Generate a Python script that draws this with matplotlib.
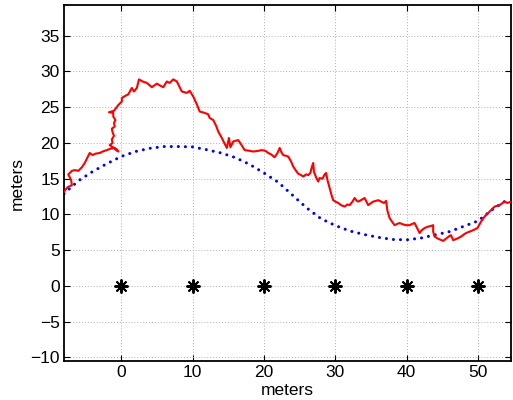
import matplotlib
matplotlib.use("Agg")
import matplotlib.pyplot as plt
import matplotlib.ticker as mticker

# measured track (noisy) in meters
track_x = [-8.0, -7.5, -6.9, -7.0, -7.4, -6.9, -6.5, -6.0, -5.5, -5.1, -4.8, -4.4,
           -4.0, -3.6, -3.0, -2.6, -2.0, -1.5, -0.9, -0.4, -1.0, -1.6, -1.2, -1.3,
           -1.0, -1.2, -1.3, -0.9, -1.0, -0.8, -1.1, -1.1, -1.7, -1.0, -0.7, -0.4,
           0.1, 0.1, 0.6, 1.0, 1.5, 1.8, 2.2, 2.5, 3.0, 3.6, 4.3, 5.0, 5.5, 5.9,
           6.4, 6.8, 7.3, 7.8, 8.5, 9.2, 9.6, 10.1, 10.6, 11.0, 11.7, 12.2, 12.4,
           12.9, 13.3, 13.6, 14.1, 14.8, 15.1, 15.3, 15.7, 16.0, 16.4, 16.8, 17.3,
           18.0, 18.5, 19.2, 19.7, 20.2, 20.6, 21.0, 21.5, 21.9, 22.2, 22.5, 22.7,
           23.1, 23.4, 23.8, 24.1, 24.5, 24.8, 25.2, 25.5, 25.9, 26.2, 26.5, 26.7,
           26.9, 27.0, 27.3, 27.6, 27.8, 28.2, 28.5, 28.7, 28.9, 29.2, 29.5, 29.7,
           30.0, 30.4, 30.8, 31.3, 31.7, 32.0, 32.4, 32.7, 33.0, 33.2, 33.6, 34.1,
           34.4, 34.6, 35.0, 35.3, 35.7, 36.0, 36.4, 36.8, 37.1, 37.3, 37.6, 38.0,
           38.3, 38.7, 39.0, 39.5, 39.9, 40.4, 40.8, 41.1, 41.5, 41.8, 42.1, 42.5,
           43.0, 43.4, 43.7, 43.7, 43.9, 44.4, 45.1, 45.6, 46.0, 46.2, 46.5, 47.0,
           47.6, 48.0, 48.3, 48.8, 49.3, 49.9, 50.4, 50.9, 51.6, 52.3, 53.0, 53.7,
           54.1, 54.6]
track_y = [13.2, 13.8, 14.1, 14.8, 15.6, 16.1, 16.2, 16.1, 16.6, 17.2, 17.8, 18.6,
           18.3, 18.5, 18.6, 18.8, 19.0, 19.2, 19.3, 18.8, 19.3, 19.7, 20.0, 20.5,
           21.0, 21.5, 22.0, 22.3, 22.8, 23.2, 23.7, 24.2, 24.3, 24.5, 24.9, 25.3,
           25.8, 26.3, 26.6, 26.8, 27.7, 27.2, 27.7, 28.9, 28.6, 28.4, 27.8, 28.3,
           28.0, 27.8, 28.6, 28.4, 28.9, 28.6, 27.2, 27.0, 27.3, 26.5, 25.4, 24.4,
           24.2, 24.0, 23.5, 23.2, 22.4, 21.6, 20.7, 19.3, 20.7, 19.4, 20.2, 20.3,
           20.4, 19.8, 19.0, 18.9, 18.8, 18.9, 19.0, 18.9, 18.6, 18.4, 18.0, 18.6,
           19.3, 18.6, 18.3, 18.2, 18.1, 17.4, 16.7, 16.1, 15.7, 15.5, 15.3, 15.6,
           15.5, 15.8, 16.6, 17.2, 16.0, 15.2, 14.6, 15.1, 15.0, 15.6, 15.8, 14.8,
           13.7, 12.6, 12.0, 11.8, 11.6, 11.3, 11.1, 11.4, 11.3, 11.8, 12.3, 11.9,
           11.8, 12.0, 12.3, 11.7, 11.3, 11.6, 11.8, 11.9, 12.0, 11.8, 11.6, 11.9,
           10.5, 9.5, 8.9, 8.5, 8.7, 8.8, 8.6, 8.5, 8.5, 8.7, 8.8, 8.0, 7.4, 7.8,
           8.1, 8.3, 8.4, 8.5, 7.6, 6.9, 6.6, 6.3, 6.7, 7.0, 7.1, 6.4, 6.6, 6.9,
           7.2, 7.4, 7.6, 7.8, 8.1, 9.0, 9.7, 10.4, 11.1, 11.3, 11.8, 11.6, 11.8]

# smooth reference path
path_x = [-8, -6, -4, -2, 0, 2, 4, 6, 8, 10, 12, 14, 16, 18, 20, 22, 24, 26,
          28, 30, 32, 34, 36, 38, 40, 42, 44, 46, 48, 50, 52, 54, 54.5]
path_y = [12.9, 14.7, 16.0, 17.1, 18.1, 18.8, 19.25, 19.5, 19.5, 19.45, 19.05,
          18.6, 17.95, 17.0, 15.8, 14.5, 12.7, 10.9, 9.4, 8.45, 7.7, 7.2, 6.8,
          6.5, 6.45, 6.7, 7.15, 7.6, 8.35, 9.1, 10.7, 12.0, 12.3]

# beacon positions
beacon_x = [0, 10, 20, 30, 40, 50]
beacon_y = [0, 0, 0, 0, 0, 0]

plt.rcParams["font.family"] = ["Liberation Sans", "DejaVu Sans"]
plt.rcParams["font.size"] = 12

fig = plt.figure(figsize=(5.13, 4.0), dpi=100)
ax = fig.add_axes([64 / 513, 39 / 400, 447 / 513, 356 / 400])

ax.plot(track_x, track_y, color="red", lw=1.5, zorder=3)
ax.plot(path_x, path_y, color="blue", lw=2.2, linestyle=(0, (0.01, 2.3)),
        dash_capstyle="round", zorder=2)
ax.plot(beacon_x, beacon_y, linestyle="none", marker=(8, 2, 0), color="black",
        markersize=10, markeredgewidth=1.4, zorder=4)

ax.set_xlim(-8, 54.6)
ax.set_ylim(-10.5, 39.3)
ax.set_xticks(range(0, 51, 10))
ax.set_yticks(range(-10, 36, 5))
ax.yaxis.set_major_formatter(mticker.FuncFormatter(
    lambda v, p: f"{v:.0f}".replace("-", "\u2212")))

ax.grid(True, color="#b0b0b0", linestyle=(0, (1, 2)), lw=0.7)
ax.tick_params(direction="in", top=True, right=True, length=4, width=0.8,
               pad=3, labelsize=12.5)
for s in ax.spines.values():
    s.set_linewidth(1.3)

ax.set_xlabel("meters", fontsize=12.5, labelpad=2)
ax.set_ylabel("meters", fontsize=12.5, labelpad=4)

fig.savefig("out.png", dpi=100)
